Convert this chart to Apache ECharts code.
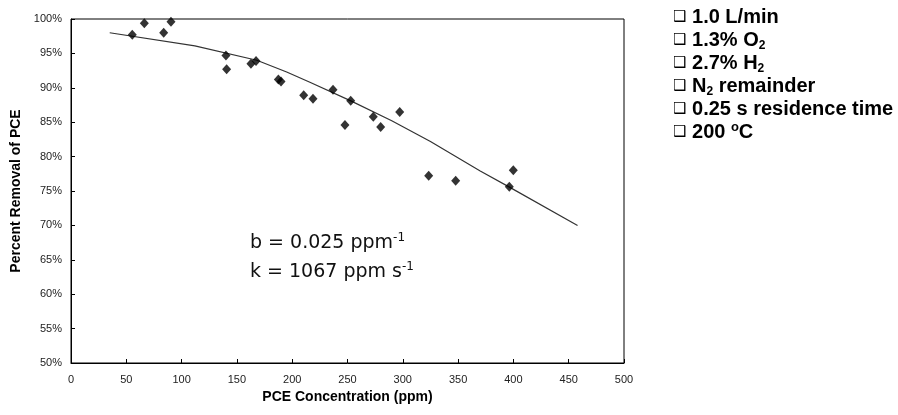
<!DOCTYPE html>
<html>
<head>
<meta charset="utf-8">
<script src="https://cdn.jsdelivr.net/npm/echarts@6/dist/echarts.min.js"></script>
<style>
html,body{margin:0;padding:0;background:#fff;}
#chart{width:898px;height:415px;}
</style>
</head>
<body>
<div id="chart"></div>
<script>
// Measured data points (PCE concentration in ppm, percent removal)
var concentration = [55.4, 66.3, 83.8, 90.4, 140.1, 140.7, 162.7, 167.3, 187.5, 189.9, 210.4, 218.8, 236.9, 247.7, 252.9, 273.3, 280.0, 297.2, 323.4, 347.8, 396.3, 399.9];
var removal = [97.7, 99.4, 98.0, 99.6, 94.7, 92.7, 93.5, 93.9, 91.2, 90.9, 88.9, 88.4, 89.7, 84.6, 88.1, 85.8, 84.3, 86.5, 77.2, 76.5, 75.6, 78.0];

// Model curve
var modelConcentration = [35, 112, 168, 195, 216, 253, 290, 325, 370, 396, 458];
var modelRemoval = [98.0, 96.1, 94.0, 92.3, 90.8, 88.1, 85.2, 82.2, 77.9, 75.6, 70.0];

// Axis settings
var xTicks = [0, 50, 100, 150, 200, 250, 300, 350, 400, 450, 500];
var yTicks = [50, 55, 60, 65, 70, 75, 80, 85, 90, 95, 100];

// Text
var xTitle = 'PCE Concentration (ppm)';
var yTitle = 'Percent Removal of PCE';
var conditionLines = [
  '{box|\u2751} 1.0 L/min',
  '{box|\u2751} 1.3% O{sub|2}',
  '{box|\u2751} 2.7% H{sub|2}',
  '{box|\u2751} N{sub|2} remainder',
  '{box|\u2751} 0.25 s residence time',
  '{box|\u2751} 200 {sup|o}C'
];
var fitLines = [
  'b = 0.025 ppm{sup|-1}',
  'k = 1067 ppm s{sup|-1}'
];

var scatterData = concentration.map(function (c, i) { return [c, removal[i]]; });
var modelData = modelConcentration.map(function (c, i) { return [c, modelRemoval[i]]; });

var chart = echarts.init(document.getElementById('chart'), null, {renderer: 'canvas'});
var labelFont = 'Liberation Sans, Arial, sans-serif';

chart.setOption({
  animation: false,
  backgroundColor: '#fff',
  grid: {
    left: 71, right: 274, top: 19, bottom: 52,
    show: true, borderColor: '#000', borderWidth: 1, backgroundColor: 'transparent'
  },
  xAxis: {
    type: 'value',
    min: xTicks[0], max: xTicks[xTicks.length - 1], interval: xTicks[1] - xTicks[0],
    name: xTitle, nameLocation: 'middle', nameGap: 26,
    nameTextStyle: {fontFamily: labelFont, fontWeight: 'bold', fontSize: 14, color: '#000'},
    axisLine: {show: true, lineStyle: {color: '#000', width: 1}},
    axisTick: {show: true, inside: true, length: 4, lineStyle: {color: '#000'}},
    axisLabel: {color: '#222', fontSize: 11, fontFamily: labelFont, margin: 11},
    splitLine: {show: false}
  },
  yAxis: {
    type: 'value',
    min: yTicks[0], max: yTicks[yTicks.length - 1], interval: yTicks[1] - yTicks[0],
    name: yTitle, nameLocation: 'middle', nameGap: 39, nameRotate: 90,
    nameTextStyle: {fontFamily: labelFont, fontWeight: 'bold', fontSize: 14, color: '#000'},
    axisLine: {show: true, lineStyle: {color: '#000', width: 1}},
    axisTick: {show: true, inside: true, length: 4, lineStyle: {color: '#000'}},
    axisLabel: {color: '#222', fontSize: 11, fontFamily: labelFont, margin: 9, formatter: '{value}%'},
    splitLine: {show: false}
  },
  series: [
    {
      type: 'line',
      data: modelData,
      showSymbol: false,
      symbol: 'none',
      lineStyle: {color: '#333', width: 1.2},
      z: 2
    },
    {
      type: 'scatter',
      data: scatterData,
      symbol: 'diamond',
      symbolSize: [9, 10],
      itemStyle: {color: '#000'},
      z: 3
    }
  ],
  graphic: [
    {
      type: 'text',
      left: 673, top: 6,
      style: {
        text: conditionLines.join('\n'),
        fontFamily: labelFont, fontWeight: 'bold', fontSize: 20, lineHeight: 23,
        fill: '#000',
        rich: {
          box: {fontFamily: 'DejaVu Sans', fontSize: 15, fontWeight: 'normal', lineHeight: 23, fill: '#000'},
          sub: {fontFamily: labelFont, fontWeight: 'bold', fontSize: 12, lineHeight: 12, verticalAlign: 'bottom', fill: '#000'},
          sup: {fontFamily: labelFont, fontWeight: 'bold', fontSize: 13, lineHeight: 13, verticalAlign: 'top', fill: '#000'}
        }
      }
    },
    {
      type: 'text',
      left: 250, top: 229,
      style: {
        text: fitLines.join('\n'),
        fontFamily: 'DejaVu Sans', fontSize: 19, lineHeight: 29,
        fill: '#111',
        rich: {
          sup: {fontFamily: 'DejaVu Sans', fontSize: 12, lineHeight: 12, verticalAlign: 'top', padding: [3, 0, 0, 0], fill: '#111'}
        }
      }
    }
  ]
});
</script>
</body>
</html>
